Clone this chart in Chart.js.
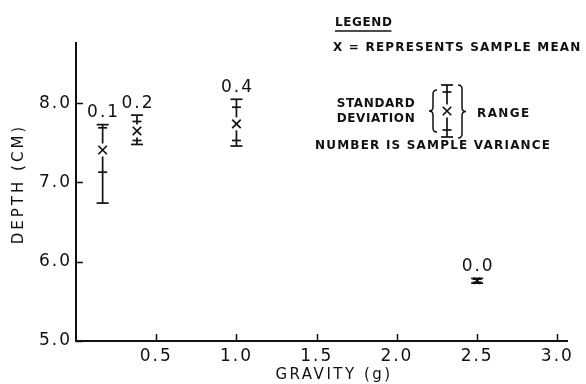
<!DOCTYPE html>
<html>
<head>
<meta charset="utf-8">
<script src="https://cdn.jsdelivr.net/npm/chart.js@4.4.1/dist/chart.umd.min.js"></script>
<style>
  html, body { margin: 0; padding: 0; background: #fff; }
  #wrap { width: 586px; height: 384px; }
</style>
</head>
<body>
<div id="wrap"><canvas id="c" width="586" height="384"></canvas></div>
<script>
// Penetration depth versus gravity level: sample mean, standard deviation,
// range and sample variance for each gravity setting.
const gravity        = [0.166, 0.38, 1.0, 2.5];
const meanDepth      = [7.41, 7.65, 7.74, 5.76];
const stdDev         = [0.28, 0.12, 0.21, 0.02];
const rangeMin       = [6.74, 7.48, 7.46, 5.73];
const rangeMax       = [7.73, 7.85, 8.05, 5.79];
const sampleVariance = [0.1, 0.2, 0.4, 0.0];
const xTickValues    = [0.5, 1.0, 1.5, 2.0, 2.5, 3.0];
const yTickValues    = [5.0, 6.0, 7.0, 8.0];

const FONT = 'DejaVu Sans';
const INK = '#111';
const MARK_RADIUS = 6;

function drawText(ctx, text, x, y, opts) {
  ctx.save();
  ctx.font = opts.font;
  ctx.letterSpacing = opts.spacing || '0px';
  ctx.fillStyle = INK;
  ctx.textAlign = opts.align || 'left';
  ctx.textBaseline = 'middle';
  if (opts.rotate) {
    ctx.translate(x, y);
    ctx.rotate(opts.rotate);
    ctx.fillText(text, 0, 0);
  } else {
    ctx.fillText(text, x, y);
  }
  const w = ctx.measureText(text).width;
  ctx.restore();
  return w;
}

function hLine(ctx, x1, x2, y) {
  ctx.beginPath(); ctx.moveTo(x1, y); ctx.lineTo(x2, y); ctx.stroke();
}
function vLine(ctx, x, y1, y2) {
  ctx.beginPath(); ctx.moveTo(x, y1); ctx.lineTo(x, y2); ctx.stroke();
}

// Error glyph: range caps, standard-deviation ticks, stem broken around the mean mark
function errorGlyph(ctx, x, yTop, ySdHi, yMean, ySdLo, yBot) {
  const gap = 6.5;
  ctx.save();
  ctx.strokeStyle = INK;
  ctx.lineWidth = 1.7;
  if (yMean - gap > yTop) vLine(ctx, x, yTop, yMean - gap);
  if (yMean + gap < yBot) vLine(ctx, x, yMean + gap, yBot);
  hLine(ctx, x - 6, x + 6, yTop);
  hLine(ctx, x - 6, x + 6, yBot);
  hLine(ctx, x - 4.5, x + 4.5, ySdHi);
  hLine(ctx, x - 4.5, x + 4.5, ySdLo);
  ctx.restore();
}

function brace(ctx, x, y1, y2, dir) {
  // dir = 1 draws "{", dir = -1 draws "}"
  const ym = (y1 + y2) / 2;
  const xo = x + dir * 4, xi = x, xt = x - dir * 4;
  ctx.beginPath();
  ctx.moveTo(xo, y1);
  ctx.quadraticCurveTo(xi, y1, xi, y1 + 4);
  ctx.lineTo(xi, ym - 4);
  ctx.quadraticCurveTo(xi, ym, xt, ym);
  ctx.quadraticCurveTo(xi, ym, xi, ym + 4);
  ctx.lineTo(xi, y2 - 4);
  ctx.quadraticCurveTo(xi, y2, xo, y2);
  ctx.stroke();
}

const depthPlot = {
  id: 'depthPlot',
  beforeDraw(chart) {
    chart.ctx.letterSpacing = '2px';
  },
  afterDatasetsDraw(chart) {
    const ctx = chart.ctx;
    const xs = chart.scales.x, ys = chart.scales.y;
    gravity.forEach((g, i) => {
      const x = xs.getPixelForValue(g);
      const yTop = ys.getPixelForValue(rangeMax[i]);
      errorGlyph(ctx, x,
        yTop,
        ys.getPixelForValue(meanDepth[i] + stdDev[i]),
        ys.getPixelForValue(meanDepth[i]),
        ys.getPixelForValue(meanDepth[i] - stdDev[i]),
        ys.getPixelForValue(rangeMin[i]));
      drawText(ctx, sampleVariance[i].toFixed(1), x + 1, yTop - 12,
        { font: `17px "${FONT}"`, spacing: '2px', align: 'center' });
    });
  },
  afterDraw(chart) {
    const ctx = chart.ctx;
    const xs = chart.scales.x, ys = chart.scales.y;
    const area = chart.chartArea;

    // inward tick marks
    ctx.save();
    ctx.strokeStyle = INK;
    ctx.lineWidth = 1.5;
    xs.ticks.forEach(t => {
      const x = Math.round(xs.getPixelForValue(t.value)) + 0.5;
      vLine(ctx, x, area.bottom, area.bottom - 7);
    });
    ys.ticks.forEach(t => {
      const y = Math.round(ys.getPixelForValue(t.value)) + 0.5;
      hLine(ctx, area.left, area.left + 7, y);
    });
    ctx.restore();

    // axis titles
    drawText(ctx, 'DEPTH (CM)', 19, (area.top + area.bottom) / 2 - 8,
      { font: `15px "${FONT}"`, spacing: '3px', align: 'center', rotate: -Math.PI / 2 });
    drawText(ctx, 'GRAVITY (g)', area.left + 258, 375,
      { font: `15px "${FONT}"`, spacing: '2.5px', align: 'center' });

    // legend block
    const lf = `bold 12px "${FONT}"`;
    const lw = drawText(ctx, 'LEGEND', 335, 23, { font: lf, spacing: '0.6px' });
    ctx.save();
    ctx.strokeStyle = INK; ctx.lineWidth = 1.5;
    hLine(ctx, 335, 335 + lw - 1, 31);
    ctx.restore();
    drawText(ctx, 'X = REPRESENTS SAMPLE MEAN', 333, 48, { font: lf, spacing: '1.2px' });
    drawText(ctx, 'STANDARD', 376, 104, { font: lf, spacing: '0.6px', align: 'center' });
    drawText(ctx, 'DEVIATION', 376, 119, { font: lf, spacing: '0.6px', align: 'center' });
    drawText(ctx, 'RANGE', 477, 114, { font: lf, spacing: '1.4px' });
    drawText(ctx, 'NUMBER IS SAMPLE VARIANCE', 315, 146, { font: lf, spacing: '1.2px' });

    // legend key glyph
    const kx = 447, ky = 111;
    errorGlyph(ctx, kx, 85, 92, ky, 130, 137);
    ctx.save();
    ctx.strokeStyle = INK; ctx.lineWidth = 1.7;
    const d = MARK_RADIUS * Math.SQRT1_2;
    ctx.beginPath();
    ctx.moveTo(kx - d, ky - d); ctx.lineTo(kx + d, ky + d);
    ctx.moveTo(kx + d, ky - d); ctx.lineTo(kx - d, ky + d);
    ctx.stroke();
    ctx.lineWidth = 1.5;
    brace(ctx, 433, 90, 132, 1);
    brace(ctx, 462, 85, 138, -1);
    ctx.restore();
  }
};

const chart = new Chart(document.getElementById('c'), {
  type: 'scatter',
  data: {
    datasets: [{
      data: gravity.map((g, i) => ({ x: g, y: meanDepth[i] })),
      pointStyle: 'crossRot',
      pointRadius: ctx => {
        const ys = ctx.chart.scales.y;
        const i = ctx.dataIndex;
        if (!ys || i === undefined) return MARK_RADIUS;
        const span = ys.getPixelForValue(rangeMin[i]) - ys.getPixelForValue(rangeMax[i]);
        return Math.min(MARK_RADIUS, (span / 2) / Math.SQRT1_2 + 1);
      },
      pointBorderWidth: 1.7,
      borderColor: INK,
      backgroundColor: INK,
      showLine: false
    }]
  },
  options: {
    responsive: false,
    animation: false,
    devicePixelRatio: 1,
    events: [],
    layout: { padding: { left: 0, right: 19, top: 43, bottom: 0 } },
    plugins: { legend: { display: false }, tooltip: { enabled: false } },
    scales: {
      x: {
        type: 'linear',
        min: 0,
        max: 3.06,
        afterBuildTicks: s => { s.ticks = xTickValues.map(v => ({ value: v })); },
        afterFit: s => { s.height = 43; },
        grid: { display: false, drawTicks: false },
        border: { display: true, color: INK, width: 2 },
        ticks: {
          color: INK,
          font: { family: FONT, size: 17 },
          padding: 5,
          maxRotation: 0,
          autoSkip: false,
          callback: v => Number(v).toFixed(1)
        }
      },
      y: {
        type: 'linear',
        min: 5.0,
        max: 8.76,
        afterBuildTicks: s => { s.ticks = yTickValues.map(v => ({ value: v })); },
        afterFit: s => { s.width = 76; },
        grid: { display: false, drawTicks: false },
        border: { display: true, color: INK, width: 2 },
        ticks: {
          color: INK,
          font: { family: FONT, size: 17 },
          padding: 4,
          autoSkip: false,
          callback: v => Number(v).toFixed(1)
        }
      }
    }
  },
  plugins: [depthPlot]
});
</script>
</body>
</html>
